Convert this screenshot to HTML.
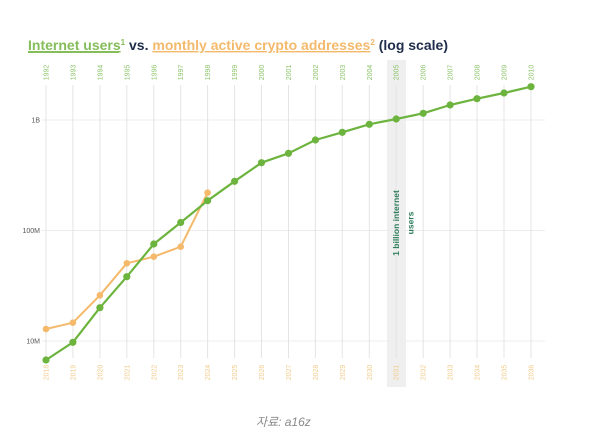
<!DOCTYPE html>
<html><head><meta charset="utf-8"><style>
html,body{margin:0;padding:0;background:#fff;width:600px;height:445px;overflow:hidden}
svg{display:block}
</style></head><body>
<svg width="600" height="445" viewBox="0 0 600 445" xmlns="http://www.w3.org/2000/svg" font-family="Liberation Sans, sans-serif">
<rect x="0" y="0" width="600" height="445" fill="#fff"/>
<!-- shaded band -->
<rect x="387" y="60" width="19" height="327" fill="#efefef"/>
<!-- horizontal grid -->
<g stroke="#ececec" stroke-width="1">
<line x1="42" y1="120" x2="545" y2="120"/>
<line x1="42" y1="230.5" x2="545" y2="230.5"/>
<line x1="42" y1="341" x2="545" y2="341"/>
</g>
<!-- vertical grid -->
<g stroke="#e4e4e4" stroke-width="1" id="vg">
<line x1="46" y1="85" x2="46" y2="358"/>
<line x1="72.9" y1="85" x2="72.9" y2="358"/>
<line x1="99.9" y1="85" x2="99.9" y2="358"/>
<line x1="126.8" y1="85" x2="126.8" y2="358"/>
<line x1="153.8" y1="85" x2="153.8" y2="358"/>
<line x1="180.7" y1="85" x2="180.7" y2="358"/>
<line x1="207.6" y1="85" x2="207.6" y2="358"/>
<line x1="234.6" y1="85" x2="234.6" y2="358"/>
<line x1="261.5" y1="85" x2="261.5" y2="358"/>
<line x1="288.5" y1="85" x2="288.5" y2="358"/>
<line x1="315.4" y1="85" x2="315.4" y2="358"/>
<line x1="342.3" y1="85" x2="342.3" y2="358"/>
<line x1="369.3" y1="85" x2="369.3" y2="358"/>
<line x1="396.2" y1="85" x2="396.2" y2="358"/>
<line x1="423.2" y1="85" x2="423.2" y2="358"/>
<line x1="450.1" y1="85" x2="450.1" y2="358"/>
<line x1="477" y1="85" x2="477" y2="358"/>
<line x1="504" y1="85" x2="504" y2="358"/>
<line x1="531" y1="85" x2="531" y2="358"/>
</g>
<!-- y labels -->
<g font-size="7" fill="#555" text-anchor="end">
<text x="40" y="122.5">1B</text>
<text x="40" y="233">100M</text>
<text x="40" y="343.5">10M</text>
</g>
<!-- top year labels -->
<g font-size="7" fill="#8cc46a" text-anchor="middle">
<text transform="translate(48.5,72.5) rotate(-90)">1992</text>
<text transform="translate(75.4,72.5) rotate(-90)">1993</text>
<text transform="translate(102.4,72.5) rotate(-90)">1994</text>
<text transform="translate(129.3,72.5) rotate(-90)">1995</text>
<text transform="translate(156.3,72.5) rotate(-90)">1996</text>
<text transform="translate(183.2,72.5) rotate(-90)">1997</text>
<text transform="translate(210.1,72.5) rotate(-90)">1998</text>
<text transform="translate(237.1,72.5) rotate(-90)">1999</text>
<text transform="translate(264,72.5) rotate(-90)">2000</text>
<text transform="translate(291,72.5) rotate(-90)">2001</text>
<text transform="translate(317.9,72.5) rotate(-90)">2002</text>
<text transform="translate(344.8,72.5) rotate(-90)">2003</text>
<text transform="translate(371.8,72.5) rotate(-90)">2004</text>
<text transform="translate(398.7,72.5) rotate(-90)">2005</text>
<text transform="translate(425.7,72.5) rotate(-90)">2006</text>
<text transform="translate(452.6,72.5) rotate(-90)">2007</text>
<text transform="translate(479.5,72.5) rotate(-90)">2008</text>
<text transform="translate(506.5,72.5) rotate(-90)">2009</text>
<text transform="translate(533.5,72.5) rotate(-90)">2010</text>
</g>
<!-- bottom year labels -->
<g font-size="7" fill="#f0cd8e" text-anchor="middle">
<text transform="translate(48.5,372.5) rotate(-90)">2018</text>
<text transform="translate(75.4,372.5) rotate(-90)">2019</text>
<text transform="translate(102.4,372.5) rotate(-90)">2020</text>
<text transform="translate(129.3,372.5) rotate(-90)">2021</text>
<text transform="translate(156.3,372.5) rotate(-90)">2022</text>
<text transform="translate(183.2,372.5) rotate(-90)">2023</text>
<text transform="translate(210.1,372.5) rotate(-90)">2024</text>
<text transform="translate(237.1,372.5) rotate(-90)">2025</text>
<text transform="translate(264,372.5) rotate(-90)">2026</text>
<text transform="translate(291,372.5) rotate(-90)">2027</text>
<text transform="translate(317.9,372.5) rotate(-90)">2028</text>
<text transform="translate(344.8,372.5) rotate(-90)">2029</text>
<text transform="translate(371.8,372.5) rotate(-90)">2030</text>
<text transform="translate(398.7,372.5) rotate(-90)">2031</text>
<text transform="translate(425.7,372.5) rotate(-90)">2032</text>
<text transform="translate(452.6,372.5) rotate(-90)">2033</text>
<text transform="translate(479.5,372.5) rotate(-90)">2034</text>
<text transform="translate(506.5,372.5) rotate(-90)">2035</text>
<text transform="translate(533.5,372.5) rotate(-90)">2036</text>
</g>
<!-- orange series -->
<polyline fill="none" stroke="#f5b96b" stroke-width="2" stroke-linejoin="round" points="46,329 72.9,322.7 99.9,295.3 126.8,263.3 153.8,256.7 180.7,246.7 207.6,192.7"/>
<g fill="#f5b96b">
<circle cx="46" cy="329" r="3.3"/><circle cx="72.9" cy="322.7" r="3.3"/><circle cx="99.9" cy="295.3" r="3.3"/><circle cx="126.8" cy="263.3" r="3.3"/><circle cx="153.8" cy="256.7" r="3.3"/><circle cx="180.7" cy="246.7" r="3.3"/><circle cx="207.6" cy="192.7" r="3.3"/>
</g>
<!-- green series -->
<polyline fill="none" stroke="#6db43f" stroke-width="2.2" stroke-linejoin="round" points="46,360 72.9,342.3 99.9,307.7 126.8,276.7 153.8,244 180.7,222.5 207.6,200.7 234.6,181.3 261.5,162.7 288.5,153.3 315.4,140 342.3,132.3 369.3,124.3 396.2,119 423.2,113.3 450.1,105 477,98.7 504,93 531,86.7"/>
<g fill="#6db43f">
<circle cx="46" cy="360" r="3.6"/><circle cx="72.9" cy="342.3" r="3.6"/><circle cx="99.9" cy="307.7" r="3.6"/><circle cx="126.8" cy="276.7" r="3.6"/><circle cx="153.8" cy="244" r="3.6"/><circle cx="180.7" cy="222.5" r="3.6"/><circle cx="207.6" cy="200.7" r="3.6"/><circle cx="234.6" cy="181.3" r="3.6"/><circle cx="261.5" cy="162.7" r="3.6"/><circle cx="288.5" cy="153.3" r="3.6"/><circle cx="315.4" cy="140" r="3.6"/><circle cx="342.3" cy="132.3" r="3.6"/><circle cx="369.3" cy="124.3" r="3.6"/><circle cx="396.2" cy="119" r="3.6"/><circle cx="423.2" cy="113.3" r="3.6"/><circle cx="450.1" cy="105" r="3.6"/><circle cx="477" cy="98.7" r="3.6"/><circle cx="504" cy="93" r="3.6"/><circle cx="531" cy="86.7" r="3.6"/>
</g>
<!-- annotation -->
<g font-size="8.5" font-weight="bold" fill="#2f7d5c" text-anchor="middle">
<text transform="translate(398.8,223) rotate(-90)">1 billion internet</text>
<text transform="translate(413.5,223) rotate(-90)">users</text>
</g>
<!-- title -->
<text x="28" y="50" font-size="14" font-weight="bold" textLength="420" lengthAdjust="spacingAndGlyphs"><tspan fill="#85bd5a" text-decoration="underline">Internet users</tspan><tspan fill="#85bd5a" font-size="8" dy="-5">1</tspan><tspan fill="#1f2d4a" dy="5"> vs. </tspan><tspan fill="#f5b96b" text-decoration="underline">monthly active crypto addresses</tspan><tspan fill="#f5b96b" font-size="8" dy="-5">2</tspan><tspan fill="#1f2d4a" dy="5"> (log scale)</tspan></text>
<line x1="28" y1="52.5" x2="119" y2="52.5" stroke="#85bd5a" stroke-width="1"/>
<!-- source -->
<text x="256" y="426" font-size="12" font-style="italic" fill="#8a8a8a" font-family="Liberation Sans, Noto Sans CJK KR, sans-serif">자료: a16z</text>
</svg>
</body></html>
